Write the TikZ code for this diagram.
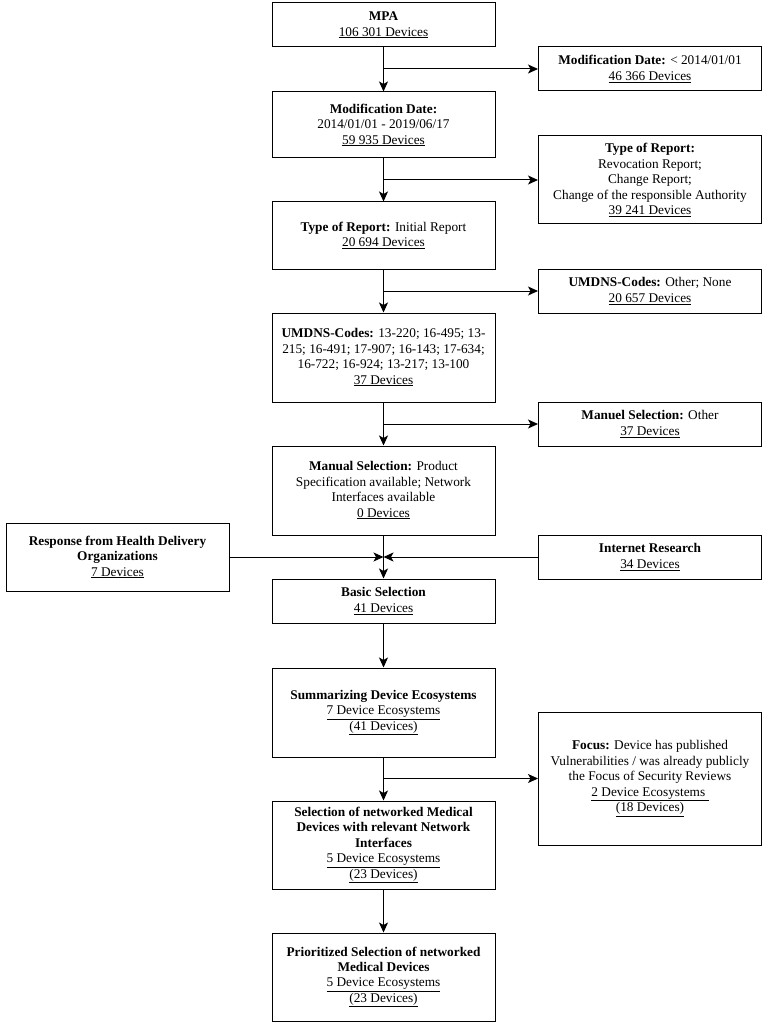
\documentclass[tikz,border=0pt]{standalone}
\usepackage{fontspec}
\setmainfont{Liberation Serif}
\usetikzlibrary{arrows.meta}

\begin{document}
\begin{tikzpicture}[x=1pt,y=-1pt]
\useasboundingbox (0,0) rectangle (775,1024);
\begin{scope}[every node/.style={rectangle,draw=black,line width=1pt,align=center,
              minimum width=223pt,inner sep=0pt,font=\fontsize{13.3}{15.4}\selectfont}]
    % main column
    \node[minimum height=44pt] (mpa) at (383.5,25) {\textbf{MPA}\\\underline{106 301 Devices}};
    \node[minimum height=66pt] (moddate) at (383.5,125) {\textbf{Modification Date:}\\2014/01/01 - 2019/06/17\\\underline{59 935 Devices}};
    \node[minimum height=67pt] (report) at (383.5,235.5) {\textbf{Type of Report:} Initial Report\\\underline{20 694 Devices}};
    \node[minimum height=89pt] (umdns) at (383.5,357.5) {\textbf{UMDNS-Codes:} 13-220; 16-495; 13-\\215; 16-491; 17-907; 16-143; 17-634;\\16-722; 16-924; 13-217; 13-100\\\underline{37 Devices}};
    \node[minimum height=89pt] (manual) at (383.5,490.5) {\textbf{Manual Selection:} Product\\Specification available; Network\\Interfaces available\\\underline{0 Devices}};
    \node[minimum height=44pt] (basic) at (383.5,601) {\textbf{Basic Selection}\\\underline{41 Devices}};
    \node[minimum height=89pt] (summary) at (383.5,712.5) {\textbf{Summarizing Device Ecosystems}\\\underline{7 Device Ecosystems}\\\underline{(41 Devices)}};
    \node[minimum height=88pt] (netsel) at (383.5,845) {\textbf{Selection of networked Medical}\\\textbf{Devices with relevant Network}\\\textbf{Interfaces}\\\underline{5 Device Ecosystems}\\\underline{(23 Devices)}};
    \node[minimum height=88pt] (prio) at (383.5,977) {\textbf{Prioritized Selection of networked}\\\textbf{Medical Devices}\\\underline{5 Device Ecosystems}\\\underline{(23 Devices)}};
    % excluded on the right
    \node[minimum height=44pt] (olddate) at (650,69) {\textbf{Modification Date:} < 2014/01/01\\\underline{46 366 Devices}};
    \node[minimum height=88pt] (otherreport) at (650,180) {\textbf{Type of Report:}\\Revocation Report;\\Change Report;\\Change of the responsible Authority\\\underline{39 241 Devices}};
    \node[minimum height=44pt] (othercodes) at (650,291) {\textbf{UMDNS-Codes:} Other; None\\\underline{20 657 Devices}};
    \node[minimum height=44pt] (othermanual) at (650,424) {\textbf{Manuel Selection:} Other\\\underline{37 Devices}};
    \node[minimum height=133pt] (focus) at (650,778.5) {\textbf{Focus:} Device has published\\Vulnerabilities / was already publicly\\the Focus of Security Reviews\\\underline{2 Device Ecosystems\ }\\\underline{(18 Devices)}};
    % added sources
    \node[minimum height=68pt] (hdo) at (117.5,557) {\textbf{Response from Health Delivery}\\\textbf{Organizations}\\\underline{7 Devices}};
    \node[minimum height=44pt] (internet) at (650,557) {\textbf{Internet Research}\\\underline{34 Devices}};
\end{scope}

\coordinate (b1) at (mpa.south |- olddate.west);
\coordinate (b2) at (moddate.south |- otherreport.west);
\coordinate (b3) at (report.south |- othercodes.west);
\coordinate (b4) at (umdns.south |- othermanual.west);
\coordinate (b5) at (summary.south |- focus.west);
\coordinate (join) at (manual.south |- hdo.east);

\begin{scope}[>={Stealth[length=10pt,width=9pt,inset=2.5pt]},
              every edge/.style={draw=black,line width=1pt}]
    \path [->] (mpa) edge (moddate);
    \path [->] (moddate) edge (report);
    \path [->] (report) edge (umdns);
    \path [->] (umdns) edge (manual);
    \path [->] (manual) edge (basic);
    \path [->] (basic) edge (summary);
    \path [->] (summary) edge (netsel);
    \path [->] (netsel) edge (prio);
    \path [->] (b1) edge (olddate);
    \path [->] (b2) edge (otherreport);
    \path [->] (b3) edge (othercodes);
    \path [->] (b4) edge (othermanual);
    \path [->] (b5) edge (focus);
    \path [->] (hdo) edge (join);
    \path [->] (internet) edge (join);
\end{scope}
\end{tikzpicture}
\end{document}
